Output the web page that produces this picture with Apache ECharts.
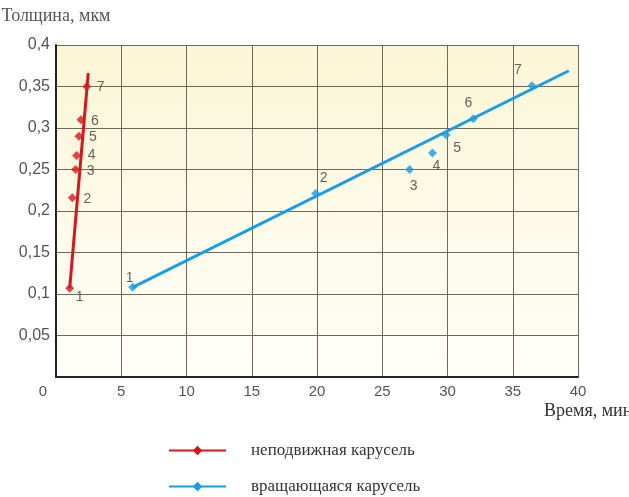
<!DOCTYPE html>
<html>
<head>
<meta charset="utf-8">
<script src="https://cdn.jsdelivr.net/npm/echarts@6/dist/echarts.min.js"></script>
<style>
  html, body { margin: 0; padding: 0; background: #ffffff; }
  #chart { width: 629px; height: 497px; }
</style>
</head>
<body>
<div id="chart"></div>
<script>
// Film thickness vs. deposition time for two carousel modes
const seriesNames = ['неподвижная карусель', 'вращающаяся карусель'];
const pointLabels = ['1', '2', '3', '4', '5', '6', '7'];
const xAxisCaption = 'Время, мин';
const yAxisCaption = 'Толщина, мкм';

// Stationary carousel: measured points (time, min / thickness, µm)
const fixedTime = [1.05, 1.25, 1.5, 1.58, 1.76, 1.91, 2.35];
const fixedThickness = [0.107, 0.216, 0.25, 0.267, 0.29, 0.31, 0.35];
// Stationary carousel: trend line end points
const fixedTrendTime = [1.05, 2.47];
const fixedTrendThickness = [0.107, 0.366];

// Rotating carousel: measured points
const rotTime = [5.87, 19.9, 27.1, 28.85, 29.9, 31.98, 36.47];
const rotThickness = [0.108, 0.221, 0.25, 0.27, 0.2915, 0.311, 0.351];
// Rotating carousel: trend line end points
const rotTrendTime = [5.87, 39.3];
const rotTrendThickness = [0.108, 0.369];

// Axis ticks
const xTicks = [0, 5, 10, 15, 20, 25, 30, 35, 40];
const yTicks = [0, 0.05, 0.1, 0.15, 0.2, 0.25, 0.3, 0.35, 0.4];

// Where each point number sits relative to its marker
const fixedLabelOffsets = [[10, 9], [15, 1], [15, 2], [15, 0], [14, 1], [14, 1], [14, 1]];
const rotLabelOffsets = [[-3, -9], [8, -15], [4, 17], [4, 13], [11, 13], [-5, -16], [-14, -16]];

const RED = '#d8161c';
const BLUE = '#1c9be6';
const serif = '"Liberation Serif", "DejaVu Serif", serif';
const sans = '"Liberation Sans", Arial, sans-serif';

const zip = (xs, ys) => xs.map((x, i) => [x, ys[i]]);

function pointData(xs, ys, offsets) {
  return xs.map((x, i) => ({
    value: [x, ys[i]],
    label: { offset: offsets[i] }
  }));
}

function trendData(xs, ys) {
  // hide the marker at the line ends; the series symbol is kept for the legend
  return zip(xs, ys).map(v => ({ value: v, symbol: 'none' }));
}

const pointLabelStyle = {
  show: true,
  position: 'inside',
  formatter: p => pointLabels[p.dataIndex],
  fontFamily: sans,
  fontSize: 14,
  color: '#3a3a3a'
};

const chart = echarts.init(document.getElementById('chart'), null, { renderer: 'canvas' });

chart.setOption({
  animation: false,
  backgroundColor: '#ffffff',
  // x-axis caption sits under the right end of the axis, running off the edge
  title: {
    text: xAxisCaption,
    left: 544,
    top: 402,
    padding: 0,
    textStyle: {
      fontFamily: serif,
      fontSize: 18,
      fontWeight: 'normal',
      color: '#333333'
    }
  },
  grid: {
    left: 56, top: 45, right: 51, bottom: 120,
    outerBoundsMode: 'none',
    show: true,
    borderWidth: 0,
    backgroundColor: new echarts.graphic.LinearGradient(0, 0, 0, 1, [
      { offset: 0, color: '#fbf6d6' },
      { offset: 1, color: '#fffef8' }
    ])
  },
  legend: {
    orient: 'vertical',
    left: 168,
    top: 442,
    padding: 0,
    height: 55,
    itemWidth: 57,
    itemHeight: 12,
    itemGap: 19,
    data: seriesNames,
    textStyle: {
      fontFamily: serif,
      fontSize: 17,
      lineHeight: 16,
      color: '#333333',
      padding: [0, 0, 0, 20]
    }
  },
  xAxis: {
    type: 'value',
    min: xTicks[0],
    max: xTicks[xTicks.length - 1],
    interval: 5,
    axisLine: { show: true, onZero: false, lineStyle: { color: '#222222', width: 2 } },
    axisTick: { show: false },
    splitLine: { show: true, lineStyle: { color: '#6d6a5c', width: 1 } },
    axisLabel: {
      margin: 7,
      fontFamily: sans,
      fontSize: 15,
      color: '#555555',
      formatter: v => (v === 0 ? '{zero|0}' : String(v)),
      rich: {
        zero: { fontFamily: sans, fontSize: 15, color: '#555555', padding: [0, 26, 0, 0] }
      }
    }
  },
  yAxis: {
    type: 'value',
    min: yTicks[0],
    max: yTicks[yTicks.length - 1],
    interval: 0.05,
    name: yAxisCaption,
    nameLocation: 'end',
    nameGap: 20,
    nameTextStyle: {
      fontFamily: serif,
      fontSize: 18,
      color: '#555555',
      align: 'center'
    },
    axisLine: { show: true, onZero: false, lineStyle: { color: '#222222', width: 2 } },
    axisTick: { show: false },
    splitLine: { show: true, lineStyle: { color: '#6d6a5c', width: 1 } },
    axisLabel: {
      margin: 6,
      fontFamily: sans,
      fontSize: 16,
      color: '#555555',
      formatter: v => (v === 0 ? '' : String(+v.toFixed(2)).replace('.', ','))
    }
  },
  series: [
    {
      name: seriesNames[0],
      type: 'line',
      data: trendData(fixedTrendTime, fixedTrendThickness),
      symbol: 'diamond',
      symbolSize: 9,
      lineStyle: { color: RED, width: 3 },
      itemStyle: { color: RED },
      z: 3
    },
    {
      name: seriesNames[1],
      type: 'line',
      data: trendData(rotTrendTime, rotTrendThickness),
      symbol: 'diamond',
      symbolSize: 9,
      lineStyle: { color: BLUE, width: 3 },
      itemStyle: { color: BLUE },
      z: 3
    },
    {
      name: seriesNames[0],
      type: 'scatter',
      data: pointData(fixedTime, fixedThickness, fixedLabelOffsets),
      symbol: 'diamond',
      symbolSize: 9,
      itemStyle: { color: RED },
      label: pointLabelStyle,
      z: 4
    },
    {
      name: seriesNames[1],
      type: 'scatter',
      data: pointData(rotTime, rotThickness, rotLabelOffsets),
      symbol: 'diamond',
      symbolSize: 9,
      itemStyle: { color: BLUE },
      label: pointLabelStyle,
      z: 4
    }
  ]
});
</script>
</body>
</html>
